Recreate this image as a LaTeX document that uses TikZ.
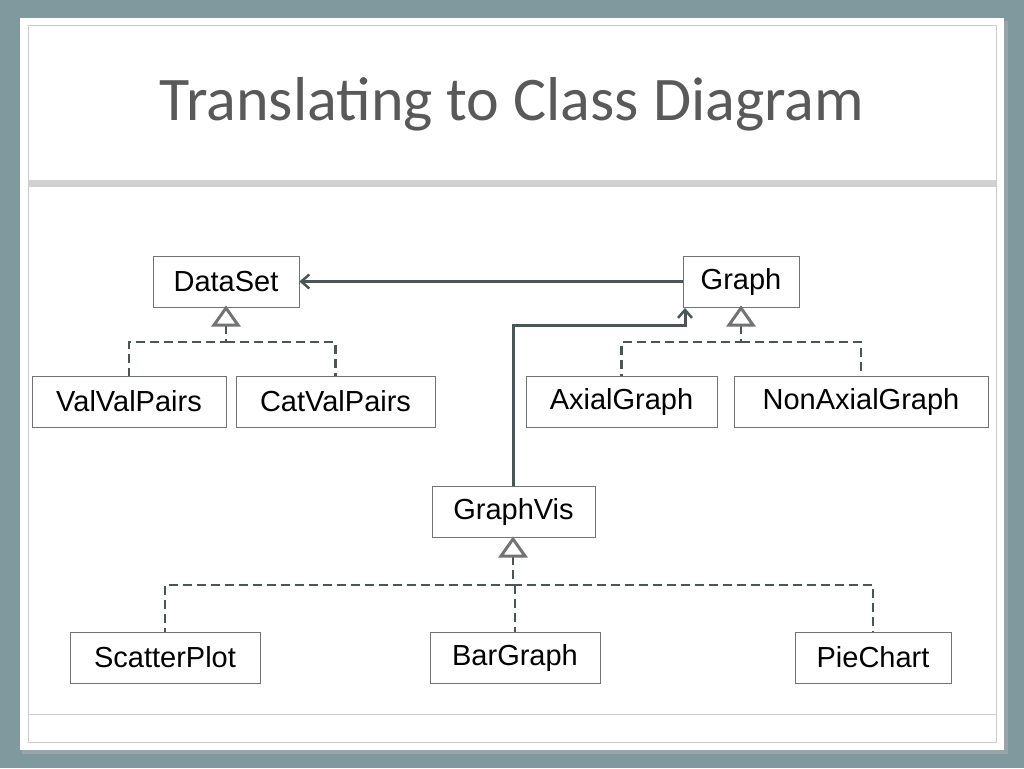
\documentclass[tikz,border=0pt]{standalone}
\usepackage{fontspec}
\setmainfont{Liberation Sans}
\newfontfamily\titlefont{Carlito}
\usetikzlibrary{arrows.meta}
\definecolor{bgc}{HTML}{7F999F}
\definecolor{linec}{HTML}{4A5557}
\definecolor{titc}{HTML}{595959}
\begin{document}
\begin{tikzpicture}[x=1pt,y=-1pt,
  cls/.style={draw=black!55,line width=0.8pt,fill=white,minimum height=51pt,inner sep=0pt,font=\fontsize{29}{32}\selectfont},
  assoc/.style={draw=linec,line width=3pt,-{Straight Barb[length=8pt,width=14pt,line width=2.5pt]}},
  gen/.style={draw=linec,line width=2.5pt,dash pattern=on 9pt off 5pt},
  tri/.style={draw=black!55,line width=3pt,fill=white}]
\fill[bgc] (0,0) rectangle (1024,768);
\fill[black!30,opacity=0.5] (22,21) rectangle (1008,754);
\fill[white] (20,18) rectangle (1004,750);
\draw[black!20,line width=1pt] (28,26) rectangle (996,742);
\fill[black!18] (28,180) rectangle (996,187);
\draw[black!20,line width=1pt] (28,714) -- (996,714);
\node (title) at (512,104) {\titlefont\fontsize{62}{70}\selectfont\color{titc}Translating to Class Diagram};
\node[cls,minimum width=146pt] (ds) at (226,281.5) {DataSet};
\node[cls,minimum width=116pt] (g) at (741,281.5) {Graph};
\node[cls,minimum width=194pt] (vv) at (129,401.5) {ValValPairs};
\node[cls,minimum width=199pt] (cv) at (335.5,401.5) {CatValPairs};
\node[cls,minimum width=191pt] (ax) at (621.5,401.5) {AxialGraph};
\node[cls,minimum width=254pt] (nax) at (861,401.5) {NonAxialGraph};
\node[cls,minimum width=163pt] (gv) at (513.5,511.5) {GraphVis};
\node[cls,minimum width=190pt] (sp) at (165,657.5) {ScatterPlot};
\node[cls,minimum width=170pt] (bg) at (515,657.5) {BarGraph};
\node[cls,minimum width=156pt] (pc) at (873,657.5) {PieChart};
% generalizations
\coordinate (dst) at (226,325); \coordinate (gt) at (741,325); \coordinate (gvt) at (513,556);
\draw[gen] (dst) -- (226,342) -| (vv.north);
\draw[gen] (226,342) -| (cv.north);
\draw[gen] (gt) -- (741,342) -| (ax.north);
\draw[gen] (741,342) -| (nax.north);
\draw[gen] (gvt) -- (513,585) -| (sp.north);
\draw[gen] (513,585) -| (pc.north);
\draw[gen] (515,585) -- (bg.north);
\draw[tri] (226,308) -- (238,325) -- (214,325) -- cycle;
\draw[tri] (741,308) -- (753,325) -- (729,325) -- cycle;
\draw[tri] (513,539) -- (525,556) -- (501,556) -- cycle;
% associations
\draw[assoc] (g.west) -- (ds.east);
\draw[assoc] (gv.north -| 513,0) -- (513,325) -- (685,325) -- (685,308);
\end{tikzpicture}
\end{document}
